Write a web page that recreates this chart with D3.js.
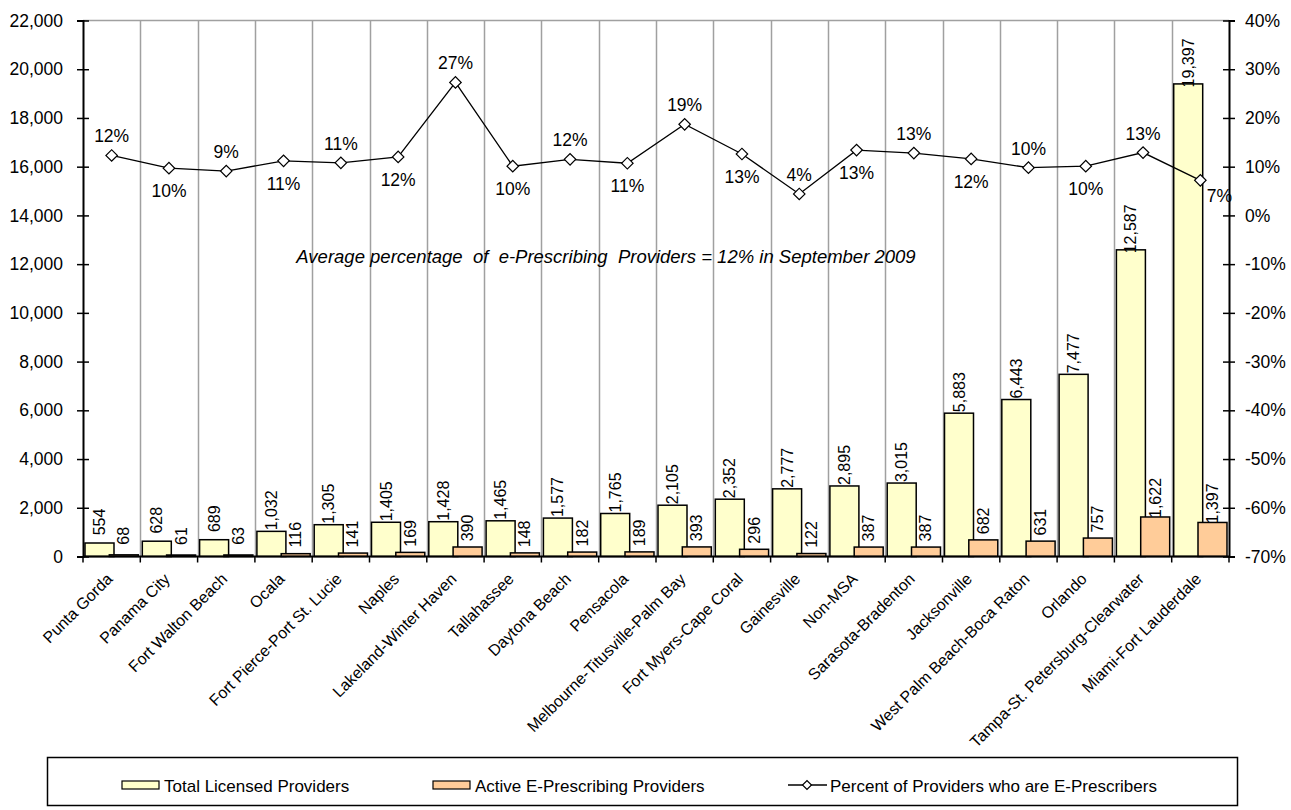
<!DOCTYPE html>
<html>
<head>
<meta charset="utf-8">
<script src="https://cdn.jsdelivr.net/npm/d3@7"></script>
<style>
  html, body { margin: 0; padding: 0; background: #fff; }
  svg { display: block; font-family: Arial, "Liberation Sans", sans-serif; }
</style>
</head>
<body>
<svg id="chart" width="1291" height="810"></svg>
<script>
// Florida MSAs, September 2009
const categories = [
  "Punta Gorda", "Panama City", "Fort Walton Beach", "Ocala", "Fort Pierce-Port St. Lucie",
  "Naples", "Lakeland-Winter Haven", "Tallahassee", "Daytona Beach", "Pensacola",
  "Melbourne-Titusville-Palm Bay", "Fort Myers-Cape Coral", "Gainesville", "Non-MSA",
  "Sarasota-Bradenton", "Jacksonville", "West Palm Beach-Boca Raton", "Orlando",
  "Tampa-St. Petersburg-Clearwater", "Miami-Fort Lauderdale"
];
const totalProviders = [554, 628, 689, 1032, 1305, 1405, 1428, 1465, 1577, 1765,
  2105, 2352, 2777, 2895, 3015, 5883, 6443, 7477, 12587, 19397];
const activeProviders = [68, 61, 63, 116, 141, 169, 390, 148, 182, 189,
  393, 296, 122, 387, 387, 682, 631, 757, 1622, 1397];
const percentEPrescribers = [12.3, 9.7, 9.1, 11.2, 10.8, 12.0, 27.3, 10.1, 11.5, 10.7,
  18.7, 12.6, 4.4, 13.4, 12.8, 11.6, 9.8, 10.1, 12.9, 7.2];
const percentLabelSide = ["above", "below", "above", "below", "above", "below", "above", "below",
  "above", "below", "above", "below", "above", "below", "above", "below", "above", "below",
  "above", "right"];
const leftTicks = [0, 2000, 4000, 6000, 8000, 10000, 12000, 14000, 16000, 18000, 20000, 22000];
const rightTicks = [-70, -60, -50, -40, -30, -20, -10, 0, 10, 20, 30, 40];
const seriesNames = ["Total Licensed Providers", "Active E-Prescribing Providers",
  "Percent of Providers who are E-Prescribers"];
const noteText = "Average percentage  of  e-Prescribing  Providers = 12% in September 2009";

const svg = d3.select("#chart");
const plot = { left: 83, right: 1229, top: 20.5, bottom: 556.5 };
const colors = { total: "#FFFFCC", active: "#FFCC99", grid: "#a0a0a0" };

const x = d3.scaleBand().domain(categories).range([plot.left, plot.right]).padding(0);
const yLeft = d3.scaleLinear().domain([0, 22000]).range([plot.bottom, plot.top]);
const yRight = d3.scaleLinear().domain([-70, 40]).range([plot.bottom, plot.top]);

const bw = x.bandwidth();
const gap = bw * 0.035;
const barW = bw * 0.506;

// top border and vertical gridlines at category boundaries
svg.append("line")
  .attr("x1", plot.left).attr("x2", plot.right)
  .attr("y1", plot.top).attr("y2", plot.top)
  .attr("stroke", colors.grid).attr("stroke-width", 1.5);
svg.append("g").selectAll("line")
  .data(categories.slice(1))
  .join("line")
  .attr("x1", d => Math.round(x(d)) + 0.5).attr("x2", d => Math.round(x(d)) + 0.5)
  .attr("y1", plot.top).attr("y2", plot.bottom)
  .attr("stroke", colors.grid).attr("stroke-width", 1.5);

// bars: total, then active drawn over it
const bars = svg.append("g");
bars.selectAll("rect.total")
  .data(categories)
  .join("rect").attr("class", "total")
  .attr("x", d => x(d) + gap)
  .attr("width", barW)
  .attr("y", (d, i) => yLeft(totalProviders[i]))
  .attr("height", (d, i) => yLeft(0) - yLeft(totalProviders[i]))
  .attr("fill", colors.total).attr("stroke", "#000").attr("stroke-width", 1.5);
bars.selectAll("rect.active")
  .data(categories)
  .join("rect").attr("class", "active")
  .attr("x", d => x(d) + bw - gap - barW)
  .attr("width", barW)
  .attr("y", (d, i) => yLeft(activeProviders[i]))
  .attr("height", (d, i) => yLeft(0) - yLeft(activeProviders[i]))
  .attr("fill", colors.active).attr("stroke", "#000").attr("stroke-width", 1.5);

// bar value labels, rotated
const fmt = d3.format(",");
const barLabels = svg.append("g").attr("font-size", 16).attr("fill", "#000");
barLabels.selectAll("text.total")
  .data(categories)
  .join("text").attr("class", "total")
  .attr("text-anchor", "middle").attr("dominant-baseline", "central")
  .attr("transform", (d, i) => `translate(${x(d) + gap + barW / 2},${yLeft(totalProviders[i]) - 21}) rotate(-90)`)
  .text((d, i) => fmt(totalProviders[i]));
barLabels.selectAll("text.active")
  .data(categories)
  .join("text").attr("class", "active")
  .attr("text-anchor", "middle").attr("dominant-baseline", "central")
  .attr("transform", (d, i) => `translate(${x(d) + bw - gap - barW / 2},${yLeft(activeProviders[i]) - 19}) rotate(-90)`)
  .text((d, i) => fmt(activeProviders[i]));

// left axis
const leftAxis = svg.append("g")
  .attr("transform", `translate(${plot.left},0)`)
  .call(d3.axisLeft(yLeft).tickValues(leftTicks).tickFormat(d3.format(",")).tickSize(6).tickPadding(14))
  .attr("font-size", 17.5).attr("font-family", "Arial, 'Liberation Sans', sans-serif");
leftAxis.select(".domain").attr("stroke", "#000").attr("stroke-width", 2);
leftAxis.selectAll(".tick line").attr("x1", 6).attr("stroke-width", 1.5);
leftAxis.selectAll(".tick text").attr("fill", "#000");

// right axis
const rightAxis = svg.append("g")
  .attr("transform", `translate(${plot.right},0)`)
  .call(d3.axisRight(yRight).tickValues(rightTicks).tickFormat(d => d + "%").tickSize(6).tickPadding(10))
  .attr("font-size", 17.5).attr("font-family", "Arial, 'Liberation Sans', sans-serif");
rightAxis.select(".domain").attr("stroke", "#000").attr("stroke-width", 2);
rightAxis.selectAll(".tick line").attr("x1", -6).attr("stroke-width", 1.5);
rightAxis.selectAll(".tick text").attr("fill", "#000");

// bottom axis: ticks at category boundaries, rotated names
const bottom = svg.append("g");
bottom.append("line")
  .attr("x1", plot.left).attr("x2", plot.right)
  .attr("y1", plot.bottom).attr("y2", plot.bottom)
  .attr("stroke", "#000").attr("stroke-width", 2);
bottom.selectAll("line.tick")
  .data(categories.concat([null]))
  .join("line").attr("class", "tick")
  .attr("x1", (d, i) => plot.left + i * bw).attr("x2", (d, i) => plot.left + i * bw)
  .attr("y1", plot.bottom).attr("y2", plot.bottom + 6)
  .attr("stroke", "#000").attr("stroke-width", 1.5);
bottom.selectAll("text")
  .data(categories)
  .join("text")
  .attr("text-anchor", "end")
  .attr("font-size", 16)
  .attr("transform", d => `translate(${x(d) + bw / 2 + 2},${plot.bottom + 23.5}) rotate(-45)`)
  .text(d => d);

// percentage line with diamond markers
const px = d => x(d) + bw / 2;
const line = d3.line().x(d => px(d)).y((d, i) => yRight(percentEPrescribers[i]));
svg.append("path")
  .datum(categories)
  .attr("d", line)
  .attr("fill", "none").attr("stroke", "#000").attr("stroke-width", 1.3);
const diamond = d3.symbol().type(d3.symbolSquare).size(66);
svg.append("g").selectAll("path")
  .data(categories)
  .join("path")
  .attr("d", diamond)
  .attr("transform", (d, i) => `translate(${px(d)},${yRight(percentEPrescribers[i])}) rotate(45)`)
  .attr("fill", "#fff").attr("stroke", "#000").attr("stroke-width", 1.2);

const pctFmt = d3.format(".0%");
svg.append("g").attr("font-size", 17.5).attr("text-anchor", "middle")
  .selectAll("text")
  .data(categories)
  .join("text")
  .attr("x", (d, i) => px(d) + (percentLabelSide[i] === "right" ? 19 : 0))
  .attr("y", (d, i) => {
    const py = yRight(percentEPrescribers[i]);
    if (percentLabelSide[i] === "above") return py - 13;
    if (percentLabelSide[i] === "below") return py + 29;
    return py + 22;
  })
  .text((d, i) => pctFmt(percentEPrescribers[i] / 100));

// note
svg.append("text")
  .attr("x", 606).attr("y", 263)
  .attr("text-anchor", "middle")
  .attr("font-size", 18.5).attr("font-style", "italic")
  .style("white-space", "pre")
  .text(noteText);

// legend
const legend = svg.append("g");
legend.append("rect")
  .attr("x", 47.5).attr("y", 757.5).attr("width", 1190).attr("height", 48)
  .attr("fill", "#fff").attr("stroke", "#000").attr("stroke-width", 1.5);
const ly = 786;
legend.append("rect").attr("x", 122).attr("y", ly - 5).attr("width", 37).attr("height", 8)
  .attr("fill", colors.total).attr("stroke", "#000").attr("stroke-width", 1.2);
legend.append("text").attr("x", 164).attr("y", ly + 6).attr("font-size", 17).text(seriesNames[0]);
legend.append("rect").attr("x", 433).attr("y", ly - 5).attr("width", 37).attr("height", 8)
  .attr("fill", colors.active).attr("stroke", "#000").attr("stroke-width", 1.2);
legend.append("text").attr("x", 475).attr("y", ly + 6).attr("font-size", 17).text(seriesNames[1]);
legend.append("line").attr("x1", 788).attr("x2", 827).attr("y1", ly - 1).attr("y2", ly - 1)
  .attr("stroke", "#000").attr("stroke-width", 1.3);
legend.append("path").attr("d", d3.symbol().type(d3.symbolSquare).size(40))
  .attr("transform", `translate(807,${ly - 1}) rotate(45)`)
  .attr("fill", "#fff").attr("stroke", "#000").attr("stroke-width", 1.2);
legend.append("text").attr("x", 830).attr("y", ly + 6).attr("font-size", 17).text(seriesNames[2]);
</script>
</body>
</html>
